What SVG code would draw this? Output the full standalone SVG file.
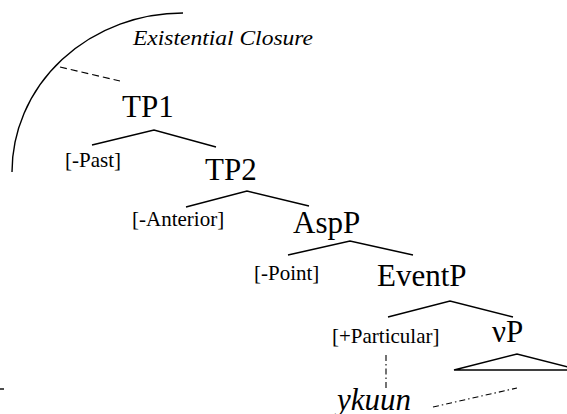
<svg xmlns="http://www.w3.org/2000/svg" width="567" height="414" viewBox="0 0 567 414">
<style>
.big{font-size:31px}
.feat{font-size:21px}
.it{font-style:italic}
.ln{fill:none;stroke:#000;stroke-width:1.4}
.dash{fill:none;stroke:#000;stroke-width:1.2;stroke-dasharray:7 4}
.dd{fill:none;stroke:#000;stroke-width:1.1;stroke-dasharray:6 3 1.5 3}
</style>
<rect width="567" height="414" fill="#fff"/>
<g font-family="'Liberation Serif', serif" fill="#000">
<g id="closure">
<path class="ln" d="M183 13 A171 159 0 0 0 12 172"/>
<text class="it" x="133" y="45" font-size="20" textLength="180" lengthAdjust="spacingAndGlyphs">Existential Closure</text>
</g>
<g id="TP1"><text class="big" x="122" y="117">TP1</text></g>
<g id="Past"><text class="feat" x="65" y="167">[-Past]</text></g>
<g id="TP2"><text class="big" x="205" y="180">TP2</text></g>
<g id="Anterior"><text class="feat" x="132" y="226">[-Anterior]</text></g>
<g id="AspP"><text class="big" x="293" y="233">AspP</text></g>
<g id="Point"><text class="feat" x="254" y="280">[-Point]</text></g>
<g id="EventP"><text class="big" x="377" y="286">EventP</text></g>
<g id="Particular"><text class="feat" x="332" y="343">[+Particular]</text></g>
<g id="vP"><text class="big" x="492" y="342">νP</text>
<polygon class="ln" points="454,370 517,354 580,370"/></g>
<g id="ykuun"><text class="it" x="337" y="410" font-size="31">ykuun</text></g>
</g>
<g id="connectors">
<path class="dash" d="M60 67 L120 81"/>
<path class="ln" d="M92 145 L154 130 L216 147"/>
<path class="ln" d="M186 207 L247 191 L309 206"/>
<path class="ln" d="M288 255 L350 241 L413 255"/>
<path class="ln" d="M388 317 L450 301 L513 317"/>
<path class="dd" d="M386 355 L386 388"/>
<path class="dd" d="M433 407 L517 388"/>
<path class="ln" d="M0 389 L4 389"/>
</g>
</svg>
